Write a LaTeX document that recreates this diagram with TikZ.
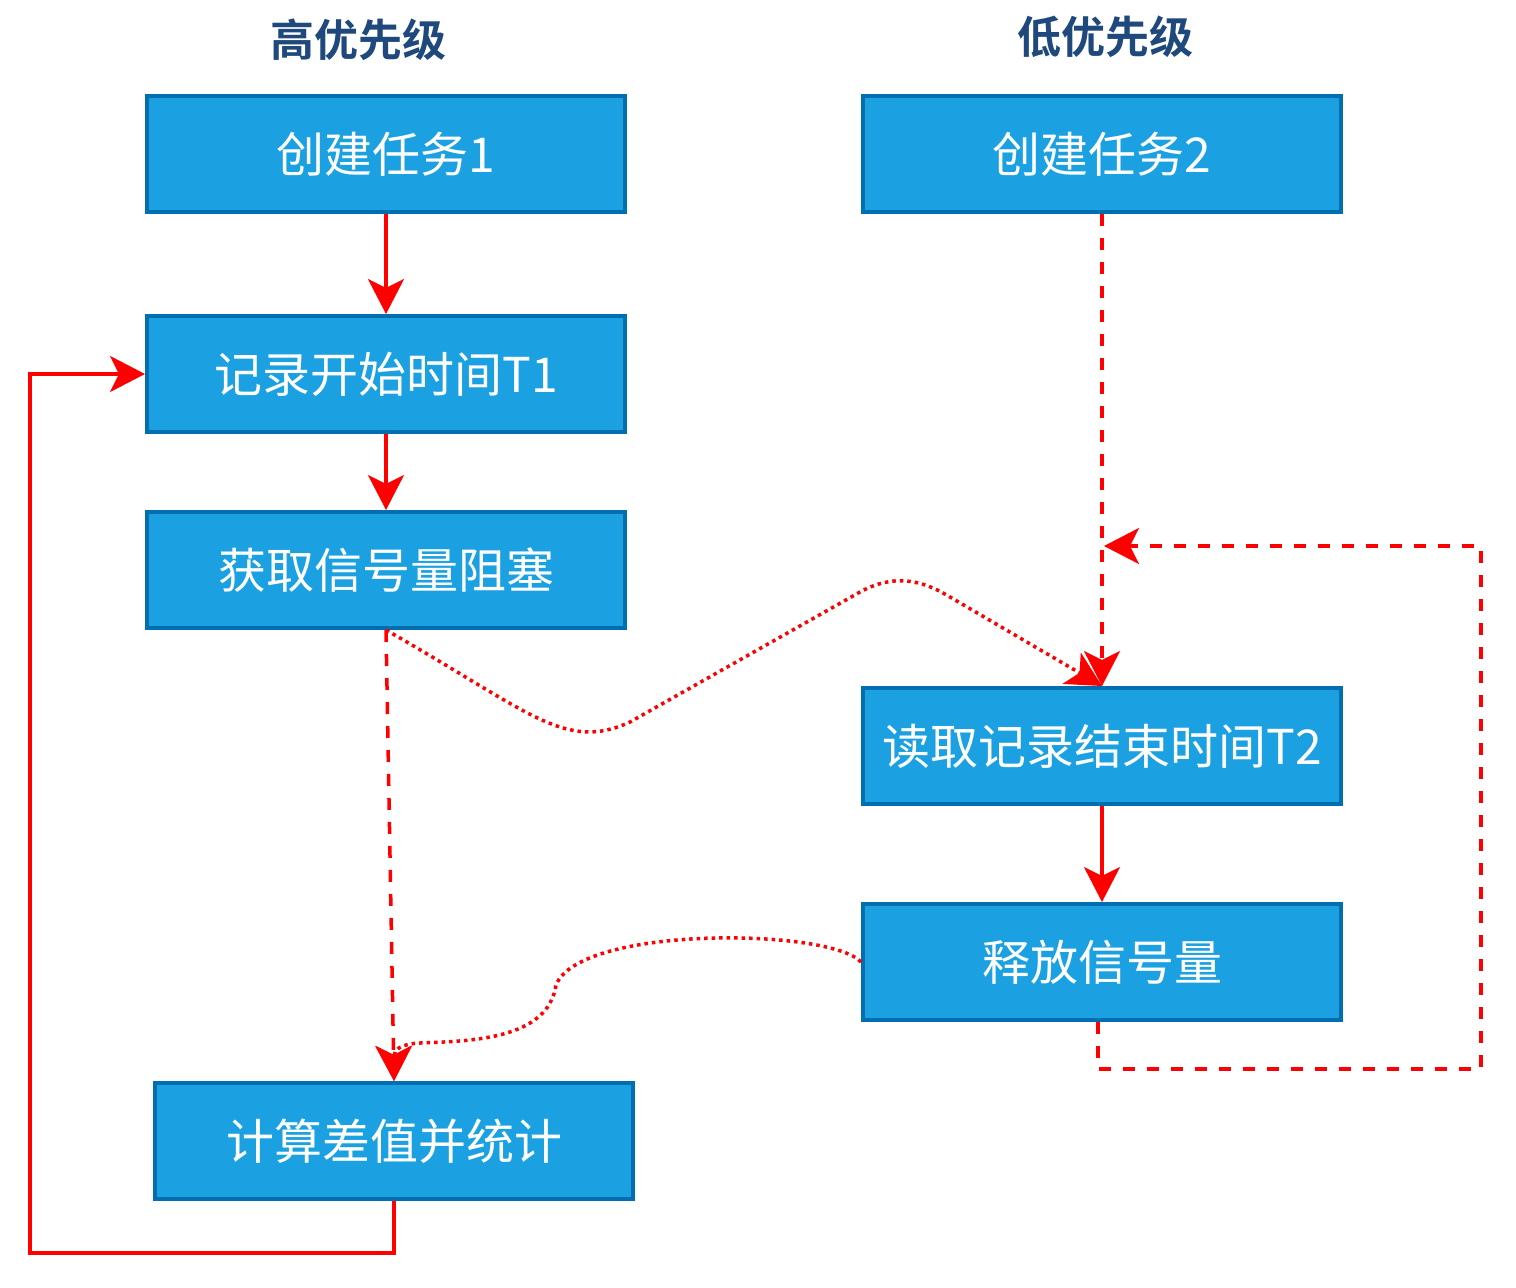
\documentclass[tikz,border=0pt]{standalone}
\usepackage{fontspec}
\newfontfamily\cjk{Noto Sans CJK SC}
\newfontfamily\cjkb{Noto Sans CJK SC Bold}
\usetikzlibrary{arrows.meta}
\definecolor{boxfill}{HTML}{1BA1E2}
\definecolor{boxline}{HTML}{006EAF}
\definecolor{titleblue}{HTML}{1F497D}
\definecolor{linered}{HTML}{FF0000}
\begin{document}
\begin{tikzpicture}[x=1pt,y=-1pt,
  taskbox/.style={draw=boxline,fill=boxfill,line width=4pt,minimum width=478pt,minimum height=116pt,inner sep=0pt,
    text=white,font=\cjk\fontsize{48}{57}\selectfont},
  ttl/.style={text=titleblue,font=\cjkb\fontsize{44}{52}\selectfont,inner sep=0pt},
  conn/.style={draw=linered,line width=3.5pt,-{Stealth[length=35pt,width=36pt,inset=9pt]}},
  dashedline/.style={dash pattern=on 12pt off 12pt},
  dottedline/.style={dash pattern=on 3.5pt off 4pt}
]
\useasboundingbox[fill=white] (0,0) rectangle (1516,1288);

\node[ttl] (t1) at (358,40) {高优先级};
\node[ttl] (t2) at (1105,37) {低优先级};

\node[taskbox] (c1) at (386,154) {创建任务1};
\node[taskbox] (c2) at (1102,154) {创建任务2};
\node[taskbox] (rec) at (386,374) {记录开始时间T1};
\node[taskbox] (get) at (386,570) {获取信号量阻塞};
\node[taskbox] (read) at (1102,746) {读取记录结束时间T2};
\node[taskbox] (rel) at (1102,962) {释放信号量};
\node[taskbox] (calc) at (394,1141) {计算差值并统计};

% solid arrows
\draw[conn] (c1.south) -- (rec.north);
\draw[conn] (rec.south) -- (get.north);
\draw[conn] (read.south) -- (rel.north);

% loop back
\draw[conn] (calc.south) -- (394,1253) -- (30,1253) -- (30,374) -- (rec.west);

% dashed
\draw[conn,dashedline] (get.south) -- (calc.north);
\draw[conn,dashedline] (c2.south) -- (read.north);

\coordinate (loopend) at (1104,546);
\draw[conn,dashedline] ([xshift=-4pt]rel.south) -- (1098,1069) -- (1481,1069) -- (1481,546) -- (loopend);

% dotted curves
\draw[conn,dottedline] (get.south) .. controls (530,712) and (565,752) .. (630,722)
  -- (860,592) .. controls (900,570) and (930,585) .. (950,597) -- (read.north);
\draw[conn,dottedline] (rel.west) .. controls (830,928) and (580,925) .. (556,985)
  .. controls (548,1040) and (470,1041) .. (420,1043)
  .. controls (400,1044) and (394,1050) .. (calc.north);
\end{tikzpicture}
\end{document}
